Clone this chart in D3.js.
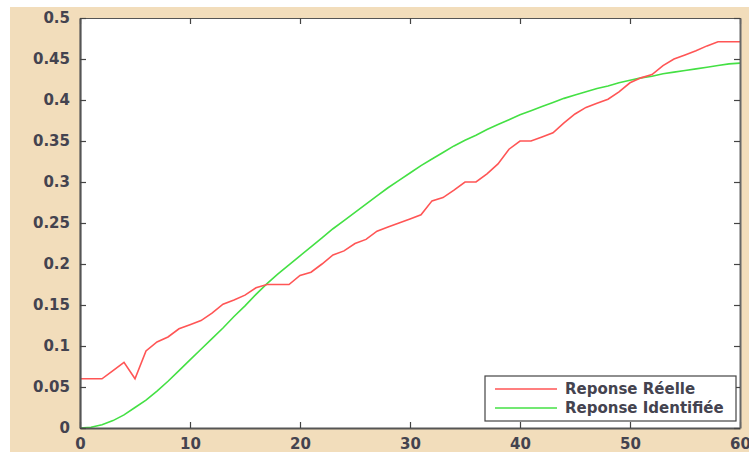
<html>
    <head>
        <style>
            body { margin: 0; background: #fff; }
            text { font-family: "DejaVu Sans", sans-serif; }
        </style>
        <script src="https://d3js.org/d3.v7.min.js"></script>
    </head>
    <body>
        <svg id="chart" width="749" height="452"></svg>
        <script>
            // time axis (samples 0..60)
            const t = d3.range(0, 61);

            // measured response
            const reelle = [0.06, 0.06, 0.06, 0.07, 0.08, 0.06, 0.094, 0.105, 0.111, 0.121,
                0.126, 0.131, 0.14, 0.151, 0.156, 0.162, 0.171, 0.175, 0.175, 0.175,
                0.186, 0.19, 0.2, 0.211, 0.216, 0.225, 0.23, 0.24, 0.245, 0.25,
                0.255, 0.26, 0.277, 0.281, 0.29, 0.3, 0.3, 0.31, 0.322, 0.34,
                0.35, 0.35, 0.355, 0.36, 0.372, 0.383, 0.391, 0.396, 0.401, 0.41,
                0.421, 0.427, 0.431, 0.442, 0.45, 0.455, 0.46, 0.466, 0.471, 0.471, 0.471];

            // identified model response
            const identifiee = [0, 0.001, 0.004, 0.009, 0.016, 0.025, 0.034, 0.045, 0.057, 0.07,
                0.083, 0.096, 0.109, 0.122, 0.136, 0.149, 0.163, 0.176, 0.188, 0.199,
                0.21, 0.221, 0.232, 0.243, 0.253, 0.263, 0.273, 0.283, 0.293, 0.302,
                0.311, 0.32, 0.328, 0.336, 0.344, 0.351, 0.357, 0.364, 0.37, 0.376,
                0.382, 0.387, 0.392, 0.397, 0.402, 0.406, 0.41, 0.414, 0.417, 0.421,
                0.424, 0.427, 0.429, 0.432, 0.434, 0.436, 0.438, 0.44, 0.442, 0.444, 0.445];

            const xTicks = [0, 10, 20, 30, 40, 50, 60];
            const yTicks = [0, 0.05, 0.1, 0.15, 0.2, 0.25, 0.3, 0.35, 0.4, 0.45, 0.5];
            const yTickLabels = ['0', '0.05', '0.1', '0.15', '0.2', '0.25', '0.3', '0.35', '0.4', '0.45', '0.5'];
            const seriesNames = ['Reponse Réelle', 'Reponse Identifiée'];
            const seriesColors = ['#ff5555', '#44e044'];

            const svg = d3.select('#chart');
            const plotLeft = 80, plotRight = 740, plotTop = 18, plotBottom = 428;

            // figure background
            svg.append('rect')
                .attr('x', 10).attr('y', 7)
                .attr('width', 739).attr('height', 445)
                .style('fill', '#f2ddbb');

            // axes area
            svg.append('rect')
                .attr('x', plotLeft).attr('y', plotTop)
                .attr('width', plotRight - plotLeft).attr('height', plotBottom - plotTop)
                .style('fill', '#fff');

            const x = d3.scaleLinear().domain([0, 60]).range([plotLeft, plotRight]);
            const y = d3.scaleLinear().domain([0, 0.5]).range([plotBottom, plotTop]);

            const line = d3.line()
                .x((d, i) => x(t[i]))
                .y(d => y(d));

            svg.append('path')
                .datum(identifiee)
                .attr('d', line)
                .style('fill', 'none')
                .style('stroke', seriesColors[1])
                .style('stroke-width', 1.6);

            svg.append('path')
                .datum(reelle)
                .attr('d', line)
                .style('fill', 'none')
                .style('stroke', seriesColors[0])
                .style('stroke-width', 1.6);

            // axes (MATLAB style, ticks inside, box on)
            const tickLen = 6;
            const bottomAxis = d3.axisBottom(x).tickValues(xTicks).tickSizeInner(-tickLen).tickSizeOuter(0).tickPadding(10);
            const topAxis = d3.axisTop(x).tickValues(xTicks).tickSizeInner(-tickLen).tickSizeOuter(0).tickFormat('');
            const leftAxis = d3.axisLeft(y).tickValues(yTicks).tickSizeInner(-tickLen).tickSizeOuter(0).tickPadding(10)
                .tickFormat((d, i) => yTickLabels[i]);
            const rightAxis = d3.axisRight(y).tickValues(yTicks).tickSizeInner(-tickLen).tickSizeOuter(0).tickFormat('');

            const gb = svg.append('g').attr('transform', `translate(0,${plotBottom})`).call(bottomAxis);
            const gt = svg.append('g').attr('transform', `translate(0,${plotTop})`).call(topAxis);
            const gl = svg.append('g').attr('transform', `translate(${plotLeft},0)`).call(leftAxis);
            const gr = svg.append('g').attr('transform', `translate(${plotRight},0)`).call(rightAxis);

            [gb, gt, gl, gr].forEach(g => {
                g.selectAll('.tick line').style('stroke', '#444').style('stroke-width', 1.2);
                g.selectAll('text')
                    .style('font-family', '"DejaVu Sans", sans-serif')
                    .style('font-size', '15px')
                    .style('font-weight', 'bold')
                    .style('fill', '#44434f');
            });
            gt.select('.domain').style('stroke', '#555').style('stroke-width', 1.2);
            gr.select('.domain').style('stroke', '#666').style('stroke-width', 2);
            gl.select('.domain').style('stroke', '#555').style('stroke-width', 2.2);
            gb.select('.domain').style('stroke', '#555').style('stroke-width', 2.2);

            // legend
            const lg = svg.append('g');
            lg.append('rect')
                .attr('x', 485).attr('y', 376)
                .attr('width', 251).attr('height', 45)
                .style('fill', '#fff')
                .style('stroke', '#444')
                .style('stroke-width', 1.2);

            seriesNames.forEach((name, i) => {
                const ly = 389 + i * 19;
                lg.append('line')
                    .attr('x1', 495).attr('x2', 557)
                    .attr('y1', ly).attr('y2', ly)
                    .style('stroke', seriesColors[i])
                    .style('stroke-width', 1.3);
                lg.append('text')
                    .attr('x', 565).attr('y', ly + 5)
                    .text(name)
                    .style('font-size', '15px')
                    .style('font-weight', 'bold')
                    .style('fill', '#44434f');
            });
        </script>
    </body>
</html>
